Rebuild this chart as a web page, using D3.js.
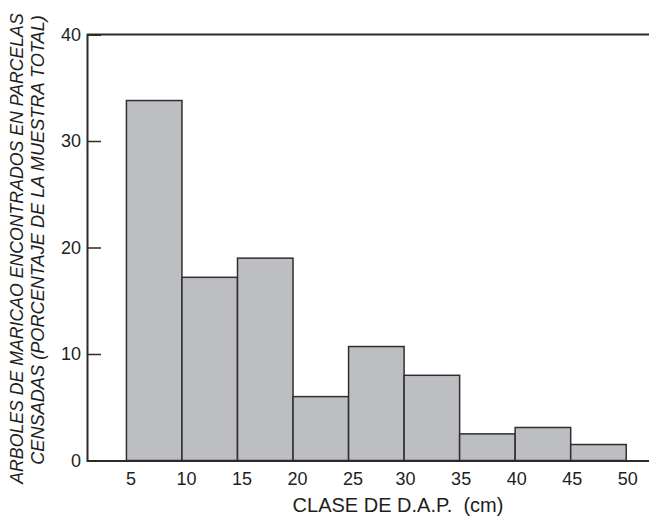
<!DOCTYPE html>
<html>
<head>
<meta charset="utf-8">
<script src="https://cdn.jsdelivr.net/npm/d3@7"></script>
<style>
  body { margin: 0; background: #fff; }
  svg { display: block; font-family: "Liberation Sans", Arial, Helvetica, sans-serif; }
</style>
</head>
<body>
<svg id="chart" width="649" height="516"></svg>
<script>
// ---- data ----
const binStarts = [5, 10, 15, 20, 25, 30, 35, 40, 45];
const binWidth = 5;
const percentages = [33.8, 17.2, 19.0, 6.0, 10.7, 8.0, 2.5, 3.1, 1.5];
const xTickValues = [5, 10, 15, 20, 25, 30, 35, 40, 45, 50];
const yTickValues = [0, 10, 20, 30, 40];
const xTitle = "CLASE DE D.A.P.  (cm)";
const yTitleLines = ["ARBOLES DE MARICAO ENCONTRADOS EN PARCELAS", "CENSADAS (PORCENTAJE DE LA MUESTRA TOTAL)"];

// ---- layout ----
const svg = d3.select("#chart");
const x = d3.scaleLinear().domain([1.45, 52.05]).range([87, 649]);
const y = d3.scaleLinear().domain([0, 40]).range([460.5, 34.5]);
const axisColor = "#2b2b2b";
const textColor = "#1e1e1e";

// bars
svg.append("g").selectAll("rect")
  .data(binStarts.map((s, i) => ({ s, v: percentages[i] })))
  .join("rect")
  .attr("x", d => x(d.s))
  .attr("y", d => y(d.v))
  .attr("width", d => x(d.s + binWidth) - x(d.s))
  .attr("height", d => y(0) - y(d.v))
  .attr("fill", "#bdbec2")
  .attr("stroke", "#2f2f2f")
  .attr("stroke-width", 1.5);

// top frame line
svg.append("line")
  .attr("x1", x.range()[0]).attr("x2", x.range()[1])
  .attr("y1", y(40)).attr("y2", y(40))
  .attr("stroke", axisColor).attr("stroke-width", 2);

// y axis
const yAxis = svg.append("g")
  .attr("transform", `translate(${x.range()[0]},0)`)
  .call(d3.axisLeft(y).tickValues(yTickValues).tickSize(-14).tickPadding(6));
yAxis.select(".domain").attr("stroke", axisColor).attr("stroke-width", 2);
yAxis.selectAll(".tick line").attr("stroke", axisColor).attr("stroke-width", 1.5)
  .attr("display", d => (d === 0 || d === 40) ? "none" : null);
yAxis.selectAll(".tick text").attr("font-size", 18).attr("fill", textColor)
  .attr("font-family", "Liberation Sans, Arial, sans-serif");

// x axis
const xAxis = svg.append("g")
  .attr("transform", `translate(0,${y(0)})`)
  .call(d3.axisBottom(x).tickValues(xTickValues).tickSize(0).tickPadding(12));
xAxis.select(".domain").attr("stroke", axisColor).attr("stroke-width", 2);
xAxis.selectAll(".tick text").attr("font-size", 18).attr("fill", textColor)
  .attr("font-family", "Liberation Sans, Arial, sans-serif")
  .attr("dx", d => d < 30 ? 4 : 1);

// x title
svg.append("text")
  .attr("x", 398).attr("y", 512)
  .attr("text-anchor", "middle")
  .attr("font-size", 20).attr("fill", textColor)
  .style("white-space", "pre")
  .text(xTitle);

// y title (two lines, rotated, italic) — size fitted to the reference span
const yLines = [
  { cx: 17, cy: 248.5, span: 471 },
  { cx: 38, cy: 240, span: 450 }
];
yTitleLines.forEach((t, i) => {
  const el = svg.append("text")
    .attr("transform", `translate(${yLines[i].cx},${yLines[i].cy}) rotate(-90)`)
    .attr("text-anchor", "middle")
    .attr("dominant-baseline", "central")
    .attr("font-size", 16).attr("font-style", "italic").attr("fill", textColor)
    .text(t);
  const len = el.node().getComputedTextLength();
  el.attr("font-size", (16 * yLines[i].span / len).toFixed(2));
});
</script>
</body>
</html>
